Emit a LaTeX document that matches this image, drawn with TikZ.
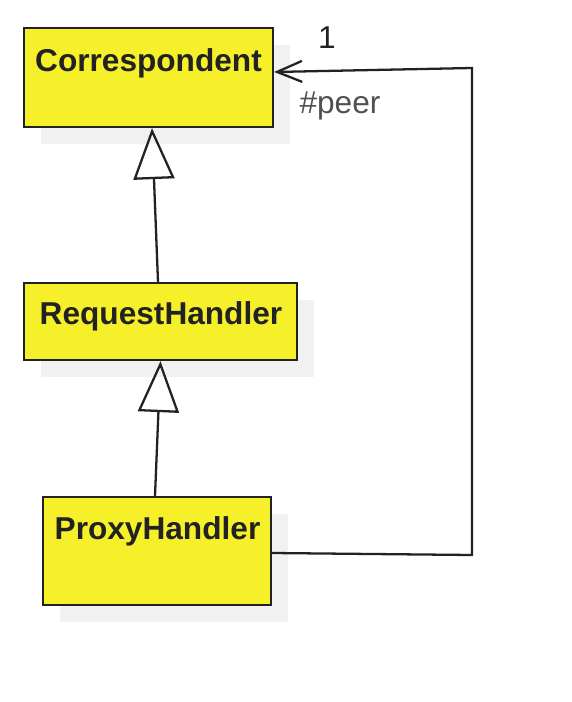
\documentclass[tikz,border=0pt]{standalone}
\usepackage{fontspec}
\setmainfont{Liberation Sans}
\usetikzlibrary{arrows.meta,shadows}
\definecolor{classyellow}{RGB}{245,240,42}
\definecolor{shadowgray}{RGB}{241,241,241}
\definecolor{linedark}{RGB}{34,34,34}
\definecolor{labelgray}{RGB}{80,80,80}

\begin{document}
\begin{tikzpicture}[x=0.02cm,y=-0.02cm,
        classbox/.style={draw=linedark,line width=1.3pt,fill=classyellow,inner sep=0pt,
            drop shadow={shadow xshift=0.34cm,shadow yshift=-0.34cm,fill=shadowgray,opacity=1}},
        classname/.style={font=\fontsize{18pt}{21pt}\bfseries\selectfont,text=linedark,anchor=base,inner sep=0pt},
        generalization/.style={draw=linedark,line width=1.3pt,-{Triangle[open,length=1.02cm,width=0.82cm]}},
        association/.style={draw=linedark,line width=1.3pt,-{Straight Barb[length=0.5cm,width=0.42cm]}},
        endlabel/.style={font=\fontsize{18pt}{21pt}\selectfont,inner sep=0pt}]
        \useasboundingbox (0,0) rectangle (571,702);
        \node[classbox,minimum width=4.98cm,minimum height=1.98cm] (corr) at (148.5,77.5) {};
        \node[classbox,minimum width=5.46cm,minimum height=1.54cm] (req) at (160.5,321.5) {};
        \node[classbox,minimum width=4.56cm,minimum height=2.16cm] (prox) at (157,551) {};
        \node[classname] (corrname) at (148.5,72) {Correspondent};
        \node[classname] (reqname) at (161,324) {RequestHandler};
        \node[classname] (proxname) at (157.5,539) {ProxyHandler};
        \draw[generalization] ([xshift=-0.05cm]req.north) -- ([xshift=0.07cm]corr.south);
        \draw[generalization] ([xshift=-0.04cm]prox.north) -- (req.south);
        \coordinate (bendlow) at (472,555);
        \coordinate (bendhigh) at (472,68);
        \draw[association] ([yshift=-0.04cm]prox.east) -- (bendlow) -- (bendhigh) -- ([yshift=0.11cm]corr.east);
        \node[endlabel,text=linedark] (mult) at (327,38) {1};
        \node[endlabel,text=labelgray] (role) at (340,106) {\#peer};
    \end{tikzpicture}
\end{document}
